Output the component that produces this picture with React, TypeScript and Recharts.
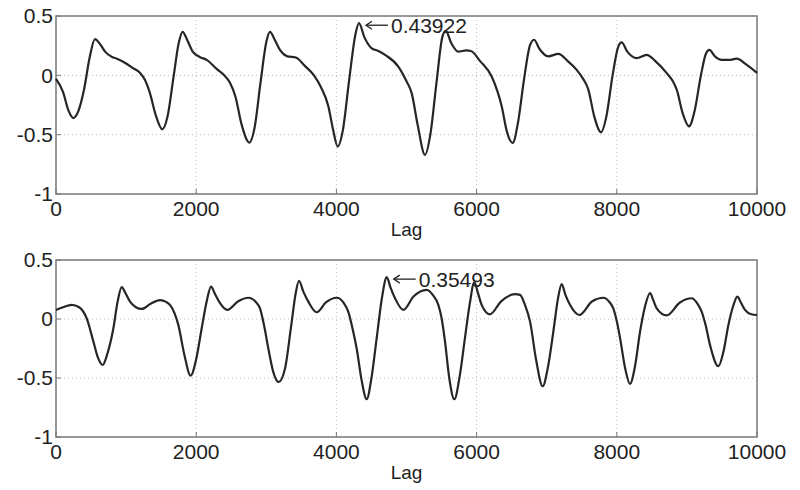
import { LineChart, Line, XAxis, YAxis, CartesianGrid, ReferenceArea, ReferenceDot } from 'recharts'

// autocorrelation, upper panel
const lagTop = [
  0, 100, 180, 247, 320, 400, 480, 556, 620, 700, 800, 870, 1000, 1100, 1200, 1270, 1340, 1420, 1517, 1590,
  1680, 1750, 1807, 1870, 1950, 2050, 2150, 2300, 2400, 2480, 2560, 2650, 2758, 2830, 2920, 3000, 3053, 3120,
  3200, 3300, 3420, 3550, 3680, 3780, 3885, 3950, 4018, 4090, 4180, 4270, 4322, 4400, 4500, 4600, 4700, 4883,
  5000, 5074, 5160, 5264, 5340, 5430, 5510, 5560, 5640, 5739, 5850, 5920, 6050, 6215, 6300, 6358, 6430, 6515,
  6590, 6680, 6760, 6819, 6900, 7023, 7166, 7300, 7428, 7520, 7594, 7680, 7775, 7850, 7940, 8020, 8070, 8150,
  8284, 8427, 8550, 8712, 8800, 8855, 8940, 9030, 9110, 9200, 9270, 9320, 9400, 9497, 9600, 9710, 9850, 10000,
]
const acfTop = [
  -0.03, -0.14, -0.3, -0.36, -0.3, -0.12, 0.15, 0.305, 0.27, 0.2, 0.155, 0.14, 0.1, 0.06, 0.02, -0.04, -0.15, -0.33, -0.455, -0.35,
  0.0, 0.27, 0.367, 0.3, 0.2, 0.155, 0.13, 0.05, 0.0, -0.06, -0.18, -0.42, -0.567, -0.45, -0.05, 0.28, 0.367, 0.3,
  0.21, 0.16, 0.15, 0.08, 0.0, -0.1, -0.26, -0.45, -0.6, -0.47, -0.05, 0.34, 0.43922, 0.32, 0.23, 0.205, 0.17, 0.074,
  -0.05, -0.15, -0.42, -0.67, -0.5, -0.05, 0.32, 0.375, 0.27, 0.2, 0.21, 0.205, 0.12, -0.01, -0.14, -0.26, -0.47, -0.57,
  -0.4, -0.02, 0.25, 0.3, 0.22, 0.16, 0.18, 0.12, 0.046, -0.03, -0.12, -0.35, -0.48, -0.35, 0.0, 0.24, 0.277, 0.2,
  0.145, 0.173, 0.12, 0.019, -0.05, -0.12, -0.32, -0.43, -0.3, 0.0, 0.18, 0.215, 0.16, 0.13, 0.13, 0.14, 0.09, 0.02,
]

// autocorrelation, lower panel
const lagBottom = [
  0, 100, 224, 330, 438, 533, 600, 666, 730, 818, 880, 937, 990, 1056, 1140, 1222, 1350, 1484, 1570, 1626,
  1690, 1745, 1830, 1921, 2000, 2078, 2150, 2211, 2270, 2340, 2444, 2600, 2744, 2850, 2910, 2970, 3029, 3100,
  3177, 3267, 3350, 3420, 3466, 3530, 3600, 3718, 3850, 4004, 4100, 4170, 4230, 4289, 4360, 4432, 4500, 4575,
  4650, 4718, 4770, 4836, 4955, 5100, 5288, 5380, 5454, 5500, 5549, 5610, 5682, 5760, 5834, 5900, 5967, 6020,
  6072, 6191, 6350, 6548, 6619, 6690, 6762, 6850, 6942, 7020, 7094, 7160, 7213, 7270, 7332, 7465, 7650, 7808,
  7900, 7950, 8000, 8046, 8120, 8188, 8260, 8331, 8400, 8474, 8520, 8569, 8712, 8900, 9069, 9150, 9212, 9270,
  9330, 9449, 9520, 9592, 9660, 9720, 9770, 9829, 9920, 10000,
]
const acfBottom = [
  0.077, 0.1, 0.12, 0.1, 0.005, -0.19, -0.33, -0.39, -0.3, -0.08, 0.15, 0.27, 0.22, 0.147, 0.1, 0.085, 0.13, 0.16, 0.145, 0.12,
  0.05, -0.05, -0.3, -0.48, -0.34, -0.08, 0.15, 0.275, 0.21, 0.134, 0.077, 0.15, 0.18, 0.145, 0.09, -0.06, -0.25, -0.45,
  -0.534, -0.42, -0.08, 0.22, 0.324, 0.23, 0.147, 0.057, 0.14, 0.18, 0.14, 0.06, -0.08, -0.25, -0.52, -0.68, -0.5, -0.16,
  0.18, 0.35493, 0.27, 0.176, 0.077, 0.19, 0.247, 0.2, 0.12, 0.01, -0.19, -0.5, -0.68, -0.48, -0.16, 0.12, 0.31, 0.22,
  0.12, 0.04, 0.15, 0.21, 0.204, 0.12, -0.02, -0.35, -0.57, -0.4, -0.11, 0.17, 0.296, 0.2, 0.12, 0.034, 0.15, 0.18,
  0.14, 0.09, -0.02, -0.16, -0.42, -0.55, -0.4, -0.11, 0.1, 0.22, 0.16, 0.09, 0.03, 0.14, 0.176, 0.13, 0.06, -0.06,
  -0.22, -0.4, -0.28, -0.05, 0.11, 0.19, 0.14, 0.077, 0.04, 0.034,
]

const xTicks = [0, 2000, 4000, 6000, 8000, 10000]
const yTicks = [-1, -0.5, 0, 0.5]

const topPeak = { lag: 4322, value: 0.43922 }
const bottomPeak = { lag: 4718, value: 0.35493 }

const FONT = '"Liberation Sans", Arial, Helvetica, sans-serif'
const tickStyle = { fill: '#222', fontSize: 21, fontFamily: FONT }

// MATLAB-style data tip: "←" drawn as a line with a head, then the value
function PeakLabel({ viewBox, text }: { viewBox?: { x: number; y: number; width?: number; height?: number }; text: string }) {
  if (!viewBox) return null
  const cx = viewBox.x + (viewBox.width ?? 0) / 2
  const cy = viewBox.y + (viewBox.height ?? 0) / 2 + 2
  const tip = cx + 7
  return (
    <g>
      <line x1={tip} y1={cy} x2={tip + 22} y2={cy} stroke="#222" strokeWidth={1.3} />
      <path d={`M${tip + 6},${cy - 4} L${tip},${cy} L${tip + 6},${cy + 4}`} fill="none" stroke="#222" strokeWidth={1.3} />
      <text x={tip + 25} y={cy} dy="0.36em" fill="#222" fontSize={21} fontFamily={FONT}>{text}</text>
    </g>
  )
}

function Panel({ lags, values, peak, marginTop, marginBottom }: {
  lags: number[]
  values: number[]
  peak: { lag: number; value: number }
  marginTop: number
  marginBottom: number
}) {
  const rows = lags.map((lag, i) => ({ lag, acf: values[i] }))
  return (
    <LineChart
      width={800}
      height={245}
      data={rows}
      margin={{ top: marginTop, right: 43, left: 0, bottom: marginBottom }}
    >
      <CartesianGrid stroke="#bdbdbd" strokeDasharray="1 3" />
      <XAxis
        dataKey="lag"
        type="number"
        domain={[0, 10000]}
        ticks={xTicks}
        height={42}
        tick={tickStyle}
        tickSize={-5}
        tickMargin={12}
        tickLine={{ stroke: '#777' }}
        axisLine={false}
        interval={0}
        label={{ value: 'Lag', position: 'insideBottom', offset: 0, fill: '#222', fontSize: 19, fontFamily: FONT }}
      />
      <YAxis
        type="number"
        domain={[-1, 0.5]}
        ticks={yTicks}
        width={56}
        tick={tickStyle}
        tickSize={-5}
        tickMargin={8}
        tickLine={{ stroke: '#777' }}
        axisLine={false}
        interval={0}
      />
      <ReferenceArea x1={0} x2={10000} y1={-1} y2={0.5} fill="none" stroke="#7a7a7a" strokeWidth={1.5} />
      <Line
        type="monotone"
        dataKey="acf"
        stroke="#262626"
        strokeWidth={2.2}
        dot={false}
        isAnimationActive={false}
      />
      <ReferenceDot
        x={peak.lag}
        y={peak.value}
        r={0}
        stroke="none"
        label={(props: any) => <PeakLabel viewBox={props.viewBox} text={peak.value.toFixed(5)} />}
      />
    </LineChart>
  )
}

export default function App() {
  return (
    <div style={{ position: 'absolute', left: 0, top: 0, width: 800, height: 490, background: '#fff' }}>
      <Panel lags={lagTop} values={acfTop} peak={topPeak} marginTop={16} marginBottom={9} />
      <Panel lags={lagBottom} values={acfBottom} peak={bottomPeak} marginTop={15} marginBottom={11} />
    </div>
  )
}
